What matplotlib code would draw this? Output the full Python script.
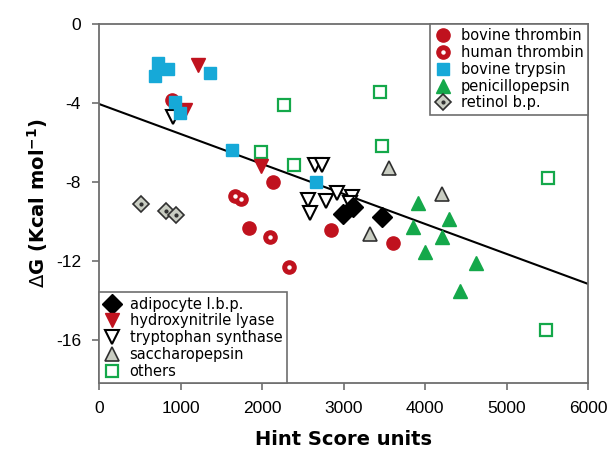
import matplotlib
matplotlib.use("Agg")
import matplotlib.pyplot as plt
from matplotlib.lines import Line2D

# ---------- data (Hint score, dG) ----------
bov_thrombin_x = [2135, 1840, 2847, 3607]
bov_thrombin_y = [-8.0, -10.33, -10.43, -11.09]

hum_thrombin_x = [896, 1669, 1742, 2098, 2331]
hum_thrombin_y = [-3.85, -8.71, -8.86, -10.78, -12.3]

bov_trypsin_x = [724, 847, 687, 1362, 933, 994, 1632, 2663]
bov_trypsin_y = [-1.97, -2.28, -2.63, -2.48, -3.95, -4.5, -6.38, -8.0]

penicillo_x = [3914, 4294, 3853, 4209, 4000, 4626, 4429]
penicillo_y = [-9.06, -9.87, -10.28, -10.78, -11.54, -12.1, -13.52]

retinol_x = [515, 822, 945]
retinol_y = [-9.11, -9.47, -9.67]

adipo_x = [2994, 3117, 3472]
adipo_y = [-9.62, -9.27, -9.77]

hydroxy_x = [1215, 1055, 1988]
hydroxy_y = [-2.08, -4.35, -7.19]

trypto_x = [908, 2650, 2736, 2564, 2589, 2785, 2920, 3104, 3080]
trypto_y = [-4.7, -7.14, -7.14, -8.91, -9.57, -8.96, -8.56, -8.76, -9.05]

saccharo_x = [3558, 3325, 4209]
saccharo_y = [-7.29, -10.63, -8.6]

others_x = [1988, 2393, 3472, 5509, 2270, 3448, 5485]
others_y = [-6.48, -7.14, -6.18, -7.8, -4.1, -3.44, -15.5]

fit_x = [0, 6000]
fit_y = [-4.05, -13.16]

# ---------- style ----------
RED = "#c0121e"
CYAN = "#16a9d8"
GREEN = "#14a84a"
GRAY = "#c9cdc2"
SPINE = "#6e6e6e"

fig = plt.figure(figsize=(6.15, 4.58), dpi=100)
ax = fig.add_axes([99/615, 1 - 383/458, (588 - 99)/615, (383 - 24)/458])

ax.plot(fit_x, fit_y, color="black", lw=1.5, zorder=1)

ms = 9.5
ax.plot(bov_thrombin_x, bov_thrombin_y, "o", ms=ms, color=RED, mec=RED, zorder=3)
ax.plot(hum_thrombin_x, hum_thrombin_y, "o", ms=ms, color=RED, mec=RED, zorder=3)
ax.plot(hum_thrombin_x, hum_thrombin_y, "o", ms=2.2, color="white", mec="white", zorder=3)
ax.plot(retinol_x, retinol_y, "D", ms=8.5, mfc=GRAY, mec="#303030", mew=1.2, zorder=3)
ax.plot(retinol_x, retinol_y, "o", ms=2, color="#303030", zorder=3)
ax.plot(others_x, others_y, "s", ms=8, mfc="white", mec=GREEN, mew=1.6, zorder=3)
ax.plot(penicillo_x, penicillo_y, "^", ms=10, color=GREEN, mec=GREEN, zorder=3)
ax.plot(saccharo_x, saccharo_y, "^", ms=10, mfc=GRAY, mec="#303030", mew=1.2, zorder=3)
ax.plot(trypto_x, trypto_y, "v", ms=10, mfc="white", mec="black", mew=1.5, zorder=3)
ax.plot(adipo_x, adipo_y, "D", ms=10, color="black", zorder=4)
ax.plot(hydroxy_x, hydroxy_y, "v", ms=10, color=RED, mec=RED, zorder=3)
ax.plot(bov_trypsin_x, bov_trypsin_y, "s", ms=9, color=CYAN, mec=CYAN, zorder=4)

ax.set_xlim(0, 6000)
ax.set_ylim(-18.18, 0)
ax.set_xticks(range(0, 6001, 1000))
ax.set_yticks([0, -4, -8, -12, -16])
ax.set_yticklabels(["0", "-4", "-8", "-12", "-16"])
for s in ax.spines.values():
    s.set_color(SPINE)
    s.set_linewidth(1.3)
ax.tick_params(direction="out", length=5, width=1.2, color=SPINE,
               labelsize=12.5, pad=8)
for lab in ax.get_xticklabels() + ax.get_yticklabels():
    lab.set_fontfamily("Liberation Sans")

ax.set_xlabel("Hint Score units", fontsize=14, fontweight="bold",
              family="DejaVu Sans", labelpad=10)
ax.set_ylabel(r"$\Delta$G (Kcal mol$^{\mathbf{-1}}$)", fontsize=14,
              fontweight="bold", family="DejaVu Sans", labelpad=4)

# ---------- legends ----------
h_bt = Line2D([], [], ls="", marker="o", ms=ms, color=RED)
h_ht = (Line2D([], [], ls="", marker="o", ms=ms, color=RED),
        Line2D([], [], ls="", marker="o", ms=2.2, color="white"))
h_tr = Line2D([], [], ls="", marker="s", ms=9, color=CYAN)
h_pe = Line2D([], [], ls="", marker="^", ms=10, color=GREEN)
h_re = (Line2D([], [], ls="", marker="D", ms=8, mfc=GRAY, mec="#303030", mew=1.2),
        Line2D([], [], ls="", marker="o", ms=2, color="#303030"))

h_ad = Line2D([], [], ls="", marker="D", ms=10, color="black")
h_hy = Line2D([], [], ls="", marker="v", ms=10, color=RED)
h_ty = Line2D([], [], ls="", marker="v", ms=10, mfc="white", mec="black", mew=1.5)
h_sa = Line2D([], [], ls="", marker="^", ms=10, mfc=GRAY, mec="#303030", mew=1.2)
h_ot = Line2D([], [], ls="", marker="s", ms=8, mfc="white", mec=GREEN, mew=1.6)

leg_kw = dict(frameon=True, fancybox=False, framealpha=1,
              edgecolor=SPINE, borderaxespad=0, handletextpad=0.6,
              labelspacing=0.12, handlelength=1.2, borderpad=0.3,
              prop={"family": "DejaVu Sans", "size": 10.5})

leg1 = ax.legend([h_bt, h_ht, h_tr, h_pe, h_re],
                 ["bovine thrombin", "human thrombin", "bovine trypsin",
                  "penicillopepsin", "retinol b.p."],
                 loc="upper right", **leg_kw)
leg1.get_frame().set_linewidth(1.2)
ax.add_artist(leg1)
leg2 = ax.legend([h_ad, h_hy, h_ty, h_sa, h_ot],
                 ["adipocyte l.b.p.", "hydroxynitrile lyase",
                  "tryptophan synthase", "saccharopepsin", "others"],
                 loc="lower left", **leg_kw)
leg2.get_frame().set_linewidth(1.2)

fig.savefig("out.png", dpi=100)
